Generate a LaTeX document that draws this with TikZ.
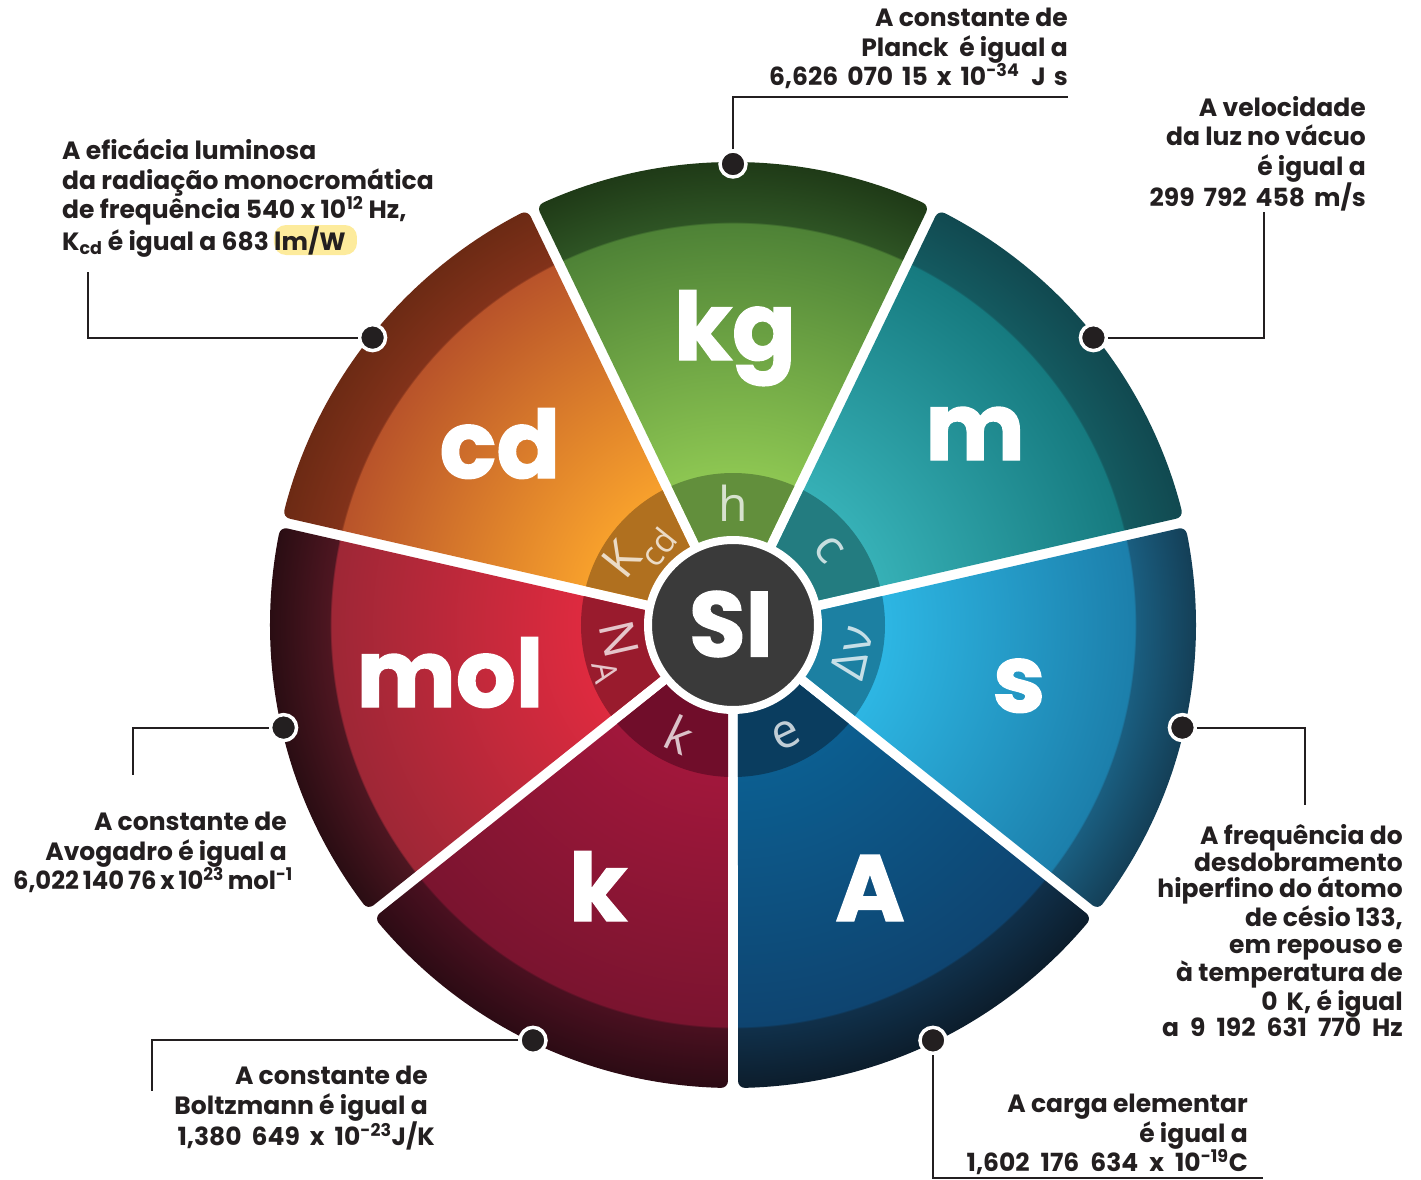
\documentclass[tikz,border=0pt]{standalone}
\usepackage{fontspec}
\setmainfont{Poppins}
\newfontfamily\heavyfont{Poppins}[FakeBold=1.5]
\newfontfamily\constfont{Open Sans}
\usetikzlibrary{calc}
\newcommand{\gap}[1]{\hspace{#1pt}}

\definecolor{ink}{HTML}{231F20}
\definecolor{sidark}{HTML}{3A3A3A}
\definecolor{hilite}{HTML}{FDEB9C}
% sector colours: in, out, rim, edge, ring
\definecolor{kgin}{HTML}{8DC652}\definecolor{kgout}{HTML}{4E8236}\definecolor{kgrim}{HTML}{2E5424}\definecolor{kgedge}{HTML}{1F3A17}\definecolor{ringkg}{HTML}{628F3C}
\definecolor{min}{HTML}{36B0B6}\definecolor{mout}{HTML}{167A7F}\definecolor{mrim}{HTML}{145A60}\definecolor{medge}{HTML}{114950}\definecolor{ringm}{HTML}{237C80}
\definecolor{sin}{HTML}{2DB6E3}\definecolor{sout}{HTML}{1C7FAB}\definecolor{srim}{HTML}{1A5E80}\definecolor{sedge}{HTML}{143F57}\definecolor{rings}{HTML}{1C80A2}
\definecolor{ampin}{HTML}{0C5E90}\definecolor{ampout}{HTML}{0E4470}\definecolor{amprim}{HTML}{10304A}\definecolor{ampedge}{HTML}{0C1D2C}\definecolor{ringamp}{HTML}{0A3D5F}
\definecolor{kelin}{HTML}{A1173B}\definecolor{kelout}{HTML}{7A142F}\definecolor{kelrim}{HTML}{4A1020}\definecolor{keledge}{HTML}{2C0B14}\definecolor{ringkel}{HTML}{700D2A}
\definecolor{molin}{HTML}{DE2A3F}\definecolor{molout}{HTML}{9E2736}\definecolor{molrim}{HTML}{4E1621}\definecolor{moledge}{HTML}{2A0D13}\definecolor{ringmol}{HTML}{991B2D}
\definecolor{cdin}{HTML}{F7A02C}\definecolor{cdout}{HTML}{B8532A}\definecolor{cdrim}{HTML}{82321A}\definecolor{cdedge}{HTML}{6C2A14}\definecolor{ringcd}{HTML}{B0701F}

\pgfdeclareradialshading{shkg}{\pgfpointorigin}{color(0bp)=(kgin); color(8.2bp)=(kgin); color(21.7bp)=(kgout); color(21.75bp)=(kgrim); color(25bp)=(kgedge); color(50bp)=(kgedge)}
\pgfdeclareradialshading{shm}{\pgfpointorigin}{color(0bp)=(min); color(8.2bp)=(min); color(21.7bp)=(mout); color(21.75bp)=(mrim); color(25bp)=(medge); color(50bp)=(medge)}
\pgfdeclareradialshading{shs}{\pgfpointorigin}{color(0bp)=(sin); color(8.2bp)=(sin); color(21.7bp)=(sout); color(21.75bp)=(srim); color(25bp)=(sedge); color(50bp)=(sedge)}
\pgfdeclareradialshading{shamp}{\pgfpointorigin}{color(0bp)=(ampin); color(8.2bp)=(ampin); color(21.7bp)=(ampout); color(21.75bp)=(amprim); color(25bp)=(ampedge); color(50bp)=(ampedge)}
\pgfdeclareradialshading{shkel}{\pgfpointorigin}{color(0bp)=(kelin); color(8.2bp)=(kelin); color(21.7bp)=(kelout); color(21.75bp)=(kelrim); color(25bp)=(keledge); color(50bp)=(keledge)}
\pgfdeclareradialshading{shmol}{\pgfpointorigin}{color(0bp)=(molin); color(8.2bp)=(molin); color(21.7bp)=(molout); color(21.75bp)=(molrim); color(25bp)=(moledge); color(50bp)=(moledge)}
\pgfdeclareradialshading{shcd}{\pgfpointorigin}{color(0bp)=(cdin); color(8.2bp)=(cdin); color(21.7bp)=(cdout); color(21.75bp)=(cdrim); color(25bp)=(cdedge); color(50bp)=(cdedge)}

\begin{document}
\begin{tikzpicture}[x=1pt,y=1pt]
\tikzset{unit/.style = {anchor=base, text=white, inner sep=0pt, font=\heavyfont\bfseries\fontsize{94}{94}\selectfont}}
\tikzset{const/.style = {text=white, text opacity=0.75, inner sep=0pt, font=\constfont\fontsize{48}{48}\selectfont}}
\tikzset{pindot/.style = {circle, fill=ink, draw=white, line width=3.5pt, minimum size=26pt, inner sep=0pt}}
\tikzset{leader/.style = {draw=ink, line width=2pt}}
\tikzset{note/.style = {anchor=north east, align=right, text=ink, inner sep=0pt, font=\bfseries\fontsize{25}{29.5}\selectfont}}
\useasboundingbox (-733,-554) rectangle (688,625);
% sectors
\foreach \nm/\mid in {kg/90, m/38.57, s/-12.86, amp/-64.29, kel/-115.71, mol/-167.14, cd/141.43} {
  \begin{scope}
    \clip[rounded corners=7pt] (\mid:11.5) -- (\mid-25.09:463) arc[start angle=\mid-25.09, end angle=\mid+25.09, radius=463pt] -- cycle;
    \shade[shading=sh\nm] (0,0) circle (463pt);
    \fill[ring\nm] (0,0) circle (152pt);
  \end{scope}
}
% centre
\node[circle, fill=sidark, draw=white, line width=8pt, minimum size=170pt] (si) at (0,0) {};
\node[text=white, inner sep=0pt, font=\heavyfont\bfseries\fontsize{92}{92}\selectfont] (silabel) at (-2,1) {SI};
% units
\node[unit] (ukg) at (2,265) {kg};
\node[unit] (um) at (242,165) {m};
\node[unit] (ucd) at (-233,147) {cd};
\node[unit] (us) at (286,-87) {s};
\node[unit] (uamp) at (137,-296) {A};
\node[unit] (ukel) at (-135,-296) {k};
\node[unit] (umol) at (-283,-82) {mol};
% constants
\node[const, rotate=0] (ch) at (90:122) {h};
\node[const, rotate=-51.43] (cc) at (38.57:122) {c};
\node[const, rotate=77.14] (cnu) at (-12.86:122) {Δν};
\node[const, rotate=25.71] (ce) at (-64.29:122) {e};
\node[const, rotate=-25.71] (ck) at (-115.71:122) {k};
\node[const, rotate=-77.14] (cna) at (-167.14:122) {N\textsubscript{A}};
\node[const, rotate=51.43] (ckcd) at (141.43:120) {K\textsubscript{cd}};
% pins
\node[pindot] (dkg) at (90:461) {};
\node[pindot] (dm) at (38.57:461) {};
\node[pindot] (ds) at (-12.86:461) {};
\node[pindot] (damp) at (-64.29:461) {};
\node[pindot] (dkel) at (-115.71:461) {};
\node[pindot] (dmol) at (-167.14:461) {};
\node[pindot] (dcd) at (141.43:461) {};
\coordinate (ekg) at (335,528);
\coordinate (em) at (531,413);
\coordinate (es) at (572,-180);
\coordinate (eamp) at (530,-553);
\coordinate (ekel) at (-581,-466);
\coordinate (emol) at (-600,-150);
\coordinate (ecd) at (-645,353);
% leaders
\draw[leader] (dkg) |- (ekg);
\draw[leader] (dm) -| (em);
\draw[leader] (ds) -| (es);
\draw[leader] (damp) |- (eamp);
\draw[leader] (dkel) -| (ekel);
\draw[leader] (dmol) -| (emol);
\draw[leader] (dcd) -| (ecd);
% texts
\fill[hilite, rounded corners=12pt] (-459,400) rectangle (-376,370);
\node[note] (tkg) at (335,617) {A constante de\\Planck~~é igual a\\6,626\gap{9}070\gap{9}15\gap{9}x\gap{9}10\textsuperscript{-34}\gap{12}J\gap{8}s};
\node[note] (tm) at (633,529) {A velocidade\\da luz no vácuo\\é igual a\hspace*{8pt}\\299\gap{9}792\gap{9}458\gap{9}m/s};
\node[note, anchor=north west, align=left] (tcd) at (-671,486) {A eficácia luminosa\\da radiação monocromática\\de frequência 540 x 10\textsuperscript{12} Hz,\\K\textsubscript{cd} é igual a 683 lm/W};
\node[note, font=\bfseries\fontsize{25}{26.8}\selectfont] (ts) at (670,-199) {A frequência do\\desdobramento\\hiperfino do átomo\\de césio 133,\\em repouso e\hspace*{8pt}\\à temperatura de\\0\gap{9}K, é igual\hspace*{8pt}\\a\gap{11}9\gap{11}192\gap{11}631\gap{11}770\gap{11}Hz};
\node[note] (tamp) at (515,-469) {A carga elementar\\é igual a\hspace*{8pt}\\1,602\gap{11}176\gap{11}634\gap{11}x\gap{11}10\textsuperscript{-19}C};
\node[note] (tkel) at (-305,-441) {A constante de\\Boltzmann é igual a\\1,380\gap{10}649\gap{10}x\gap{10}10\textsuperscript{-23}J/K\hspace*{-7pt}};
\node[note] (tmol) at (-446,-187) {A constante de\\Avogadro é igual a\\\scalebox{0.97}[1]{6,022\gap{4}140\gap{4}76\gap{4}x\gap{4}10\textsuperscript{23}\gap{4}mol\textsuperscript{-1}}\hspace*{-6pt}};
\end{tikzpicture}
\end{document}
